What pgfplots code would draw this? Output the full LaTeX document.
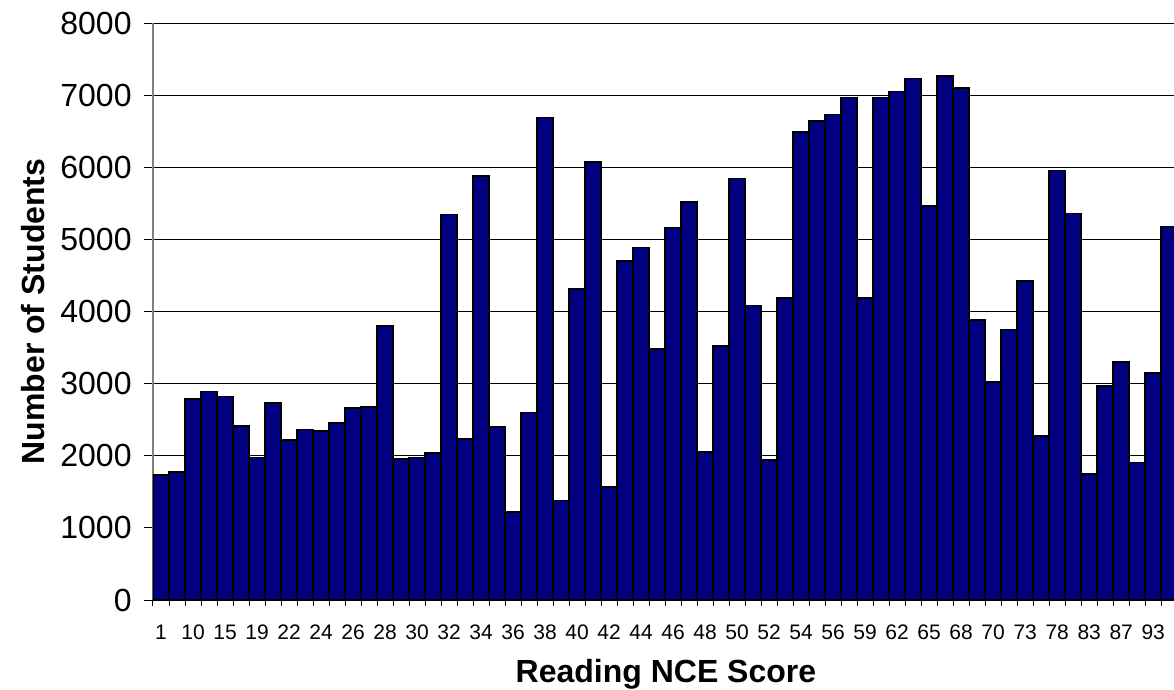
\documentclass[border=0pt]{standalone}
\usepackage{fontspec}
\setmainfont{Liberation Sans}
\usepackage{pgfplots}
\pgfplotsset{compat=1.18}
\definecolor{barnavy}{HTML}{000080}
\begin{document}
\begin{tikzpicture}
\begin{axis}[
  name=ax, at={(0,0)}, anchor=south west,
  scale only axis, width=510.5bp, height=288.5bp,
  xmin=-0.5, xmax=63.3, ymin=0, ymax=8000,
  ybar, bar width=1,
  ytick={0,1000,...,8000},
  scaled y ticks=false,
  /pgf/number format/1000 sep={},
  /pgf/number format/assume math mode=true,
  ymajorgrids, grid style={black, line width=0.5bp},
  axis x line*=bottom, axis y line*=left,
  x axis line style={black, line width=1bp, -},
  y axis line style={gray, line width=0.8bp, -},
  xtick={0,2,...,62},
  xticklabels={1,10,15,19,22,24,26,28,30,32,34,36,38,40,42,44,46,48,50,52,54,56,59,62,65,68,70,73,78,83,87,93},
  minor xtick={-0.5,0.5,...,63.5},
  tick align=outside, major tick length=4.5bp, minor tick length=2.75bp,
  major x tick style={draw=none},
  tick style={black, line width=0.5bp},
  yticklabel style={anchor=east, inner sep=0pt, xshift=-6bp, font=\fontsize{16bp}{19bp}\selectfont},
  xticklabel style={anchor=base, inner sep=0pt, yshift=-15.25bp, font=\fontsize{10.5bp}{12bp}\selectfont},
  xlabel={Reading NCE Score},
  ylabel={Number of Students},
  xlabel style={at={(axis description cs:0.5024,-0.1438)}, anchor=base, inner sep=0pt, font=\fontsize{16bp}{19bp}\selectfont\bfseries},
  ylabel style={at={(axis description cs:-0.1058,0.5)}, anchor=base, inner sep=0pt, rotate=0, font=\fontsize{16bp}{19bp}\selectfont\bfseries},
  clip=true,
]
\addplot[fill=barnavy, draw=black, line width=0.8bp] coordinates {
(0,1737) (1,1772) (2,2788) (3,2893) (4,2823) (5,2412) (6,1978) (7,2729)
(8,2218) (9,2365) (10,2342) (11,2453) (12,2658) (13,2676) (14,3797) (15,1954)
(16,1978) (17,2036) (18,5346) (19,2230) (20,5880) (21,2400) (22,1221) (23,2600)
(24,6690) (25,1379) (26,4313) (27,6074) (28,1567) (29,4701) (30,4888) (31,3480)
(32,5164) (33,5522) (34,2048) (35,3521) (36,5845) (37,4085) (38,1943) (39,4184)
(40,6491) (41,6643) (42,6731) (43,6966) (44,4184) (45,6966) (46,7048) (47,7230)
(48,5464) (49,7265) (50,7095) (51,3879) (52,3022) (53,3750) (54,4425) (55,2271)
(56,5957) (57,5358) (58,1743) (59,2964) (60,3304) (61,1907) (62,3146) (63,5176)
};
\end{axis}
\pgfresetboundingbox
\path[use as bounding box] (-76.5bp,-45bp) rectangle (510.5bp,300bp);
\end{tikzpicture}
\end{document}
